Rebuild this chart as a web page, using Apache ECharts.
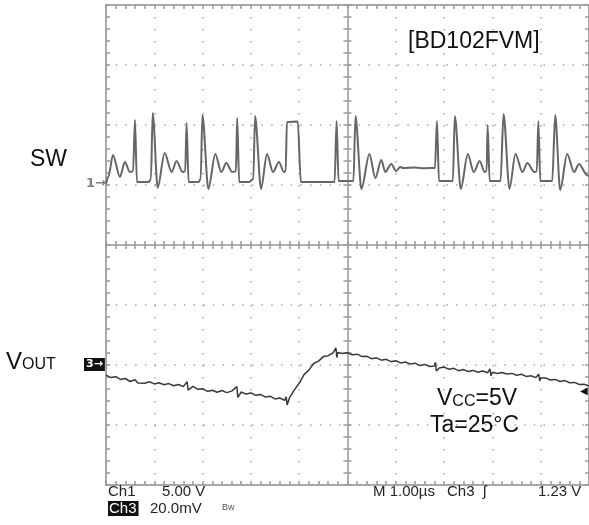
<!DOCTYPE html>
<html><head><meta charset="utf-8">
<script src="https://cdn.jsdelivr.net/npm/echarts@6/dist/echarts.min.js"></script>
<style>html,body{margin:0;padding:0;background:#fff}#c{width:589px;height:525px}</style>
</head><body><div id="c"></div>
<script>
// Oscilloscope settings (10 horizontal x 8 vertical divisions)
const timeRange = [0, 10];        // µs  (M 1.00µs / div)
const swRange = [-25, 15];        // V   (Ch1 5.00 V / div, ground marker "1")
const voutRange = [-40, 120];     // mV  (Ch3 20.0 mV / div, AC, marker "3")
const divXRange = [-5, 5];
const divYRange = [-4, 4];

// SW node waveform, [time µs, volts]
const swTrace = [
  [0.00,0.1],[0.05,0.7],[0.144,2.5],[0.288,0.67],[0.391,1.92],[0.494,1.08],[0.56,1.15],[0.60,5.42],[0.64,0.25],
  [0.885,0.25],[0.93,0.5],[0.967,6.0],[1.07,-0.25],[1.214,2.67],[1.358,1.08],[1.461,2.0],[1.584,1.08],[1.64,1.15],[1.668,5.17],[1.71,0.25],
  [1.914,0.25],[1.96,0.5],[1.996,5.83],[2.119,-0.33],[2.263,2.58],[2.387,1.08],[2.49,1.83],[2.613,1.08],[2.69,1.15],[2.716,5.58],[2.757,0.25],
  [2.963,0.25],[3.05,0.5],[3.086,5.75],[3.21,-0.33],[3.333,2.58],[3.457,1.08],[3.58,1.92],[3.683,1.08],[3.72,1.15],[3.745,5.25],[3.971,5.3],[4.033,0.25],
  [4.733,0.25],[4.774,5.33],[4.815,0.33],
  [5.123,0.33],[5.165,5.75],[5.288,-0.33],[5.453,2.58],[5.576,0.58],[5.70,2.08],[5.782,1.08],[5.905,1.75],[6.008,1.17],[6.091,1.5],[6.152,1.42],[6.40,1.45],[6.60,1.40],[6.811,1.42],[6.852,5.33],[6.894,0.33],
  [7.181,0.33],[7.222,5.75],[7.346,-0.33],[7.49,2.58],[7.613,1.08],[7.737,2.0],[7.84,1.08],[7.88,1.15],[7.901,5.0],[7.943,0.33],
  [8.169,0.33],[8.23,5.92],[8.354,-0.33],[8.477,2.58],[8.621,1.08],[8.724,1.83],[8.868,1.08],[8.92,1.15],[8.951,5.33],[8.992,0.33],
  [9.239,0.33],[9.30,5.83],[9.403,-0.42],[9.547,2.58],[9.691,1.08],[9.794,1.75],[9.959,0.83],[10.0,0.7]
];

// Output ripple waveform, [time µs, millivolts]
const voutTrace = [
  [0.0,-3.4],[0.1,-4.2],[0.2,-3.9],[0.3,-4.8],[0.4,-4.5],[0.5,-5.5],[0.6,-4.9],[0.64,-4.3],[0.66,-6.0],[0.7,-5.5],[0.8,-6.1],[0.9,-5.6],
  [1.0,-6.3],[1.1,-5.9],[1.2,-6.6],[1.3,-6.2],[1.4,-6.9],[1.5,-6.5],[1.6,-7.2],[1.68,-5.6],[1.70,-8.4],[1.8,-7.1],[1.9,-8.1],
  [2.0,-7.9],[2.1,-8.8],[2.2,-8.4],[2.3,-9.1],[2.4,-8.5],[2.5,-9.2],[2.6,-8.7],[2.71,-7.2],[2.73,-10.8],[2.8,-9.0],[2.9,-9.7],
  [3.0,-9.3],[3.1,-10.1],[3.2,-9.8],[3.3,-10.7],[3.4,-10.4],[3.5,-11.3],[3.6,-11.0],[3.7,-11.8],[3.73,-10.6],[3.75,-13.3],[3.8,-10.9],[3.9,-8.3],
  [4.0,-6.1],[4.1,-3.2],[4.2,-1.7],[4.3,0.5],[4.4,1.3],[4.5,2.8],[4.6,3.1],[4.7,4.0],[4.76,5.7],[4.78,2.5],[4.8,4.2],[4.9,3.8],
  [5.0,4.1],[5.1,3.4],[5.2,3.6],[5.3,2.8],[5.4,2.9],[5.5,2.1],[5.6,2.4],[5.7,1.6],[5.8,1.9],[5.9,1.1],
  [6.0,1.4],[6.1,0.7],[6.2,1.0],[6.3,0.3],[6.4,0.6],[6.5,-0.2],[6.6,0.2],[6.7,-0.5],[6.8,-0.3],[6.82,0.9],[6.84,-2.0],[6.9,-1.0],
  [7.0,-0.7],[7.1,-1.4],[7.2,-1.1],[7.3,-1.9],[7.4,-1.5],[7.5,-2.2],[7.6,-1.8],[7.7,-2.4],[7.8,-2.0],[7.9,-2.6],[7.95,-1.3],[7.97,-3.6],
  [8.0,-2.4],[8.1,-2.8],[8.2,-2.5],[8.3,-3.0],[8.4,-2.8],[8.5,-3.4],[8.6,-3.1],[8.7,-3.8],[8.8,-3.6],[8.9,-4.2],[8.96,-3.0],[8.98,-5.3],
  [9.0,-4.3],[9.1,-4.3],[9.2,-5.0],[9.3,-4.8],[9.4,-5.5],[9.5,-5.2],[9.6,-5.9],[9.7,-5.8],[9.8,-6.5],[9.9,-6.4],[10.0,-7.0]
];

const dotGray = '#a4a4a4';
const tickGray = '#999999';
function gratAxis(range, pos, inside, centre, zeroIdx) {
  return {
    type: 'value', min: range[0], max: range[1], interval: 1, position: pos,
    axisLine: centre
      ? {show: true, onZero: true, onZeroAxisIndex: zeroIdx, lineStyle: {color: '#b0b0b0', width: 2}}
      : {show: false, onZero: false},
    axisTick: {show: true, inside: inside, length: 4, lineStyle: {color: tickGray, width: 1.5}},
    minorTick: {show: true, splitNumber: 5, length: 4, lineStyle: {color: tickGray, width: 1.5}},
    axisLabel: {show: false},
    splitLine: {show: false}
  };
}

const xMain = gratAxis(timeRange, 'bottom', true, false);
xMain.splitLine = {show: true, lineStyle: {color: dotGray, width: 1.5, type: [1.5, 10.5]}};
const yDiv = gratAxis(divYRange, 'left', true, false);
yDiv.splitLine = {show: true, lineStyle: {color: dotGray, width: 1.5, type: [1.5, 8.22]}};

const labelFont = "'Liberation Sans', Arial, sans-serif";
const markFont = "'DejaVu Sans', sans-serif";

function label(text, left, top, size, extra) {
  return {
    text: text, left: left, top: top, padding: 0,
    textStyle: Object.assign({fontSize: size, fontFamily: labelFont, fontWeight: 'normal', color: '#111'}, extra || {})
  };
}

const chart = echarts.init(document.getElementById('c'));
chart.setOption({
  animation: false,
  title: [
    label('SW', 30, 148, 23),
    label('{v|V}{s|OUT}', 6, 350, 24, {rich: {
      v: {fontSize: 24, fontFamily: labelFont, color: '#111', verticalAlign: 'bottom'},
      s: {fontSize: 16, fontFamily: labelFont, color: '#111', verticalAlign: 'bottom', padding: [0, 0, 1, 0]}}}),
    label('1→', 86, 177, 13, {fontFamily: markFont, fontWeight: 'bold', color: '#808080'}),
    Object.assign(label('3→', 84, 358, 11, {fontFamily: markFont, fontWeight: 'bold', color: '#fff'}), {backgroundColor: '#111', padding: [1, 2, 1, 2]}),
    label('◀', 580, 386, 10, {fontFamily: markFont}),
    label('[BD102FVM]', 408, 30, 23),
    label('{v|V}{s|CC}{v|=5V}', 437, 387, 23, {rich: {
      v: {fontSize: 23, fontFamily: labelFont, color: '#111', verticalAlign: 'bottom'},
      s: {fontSize: 16, fontFamily: labelFont, color: '#111', verticalAlign: 'bottom'}}}),
    label('Ta=25°C', 430, 414, 23),
    label('Ch1', 108, 484, 15, {color: '#222'}),
    label('5.00 V', 162, 484, 15, {color: '#222'}),
    label('M 1.00µs', 373, 484, 15, {color: '#222'}),
    label('Ch3', 447, 484, 15, {color: '#222'}),
    label('\u0283', 483, 484, 15, {color: '#222'}),
    label('1.23 V', 538, 484, 15, {color: '#222'}),
    Object.assign(label('Ch3', 108, 501, 15, {color: '#fff'}), {backgroundColor: '#111', padding: [0, 2, 0, 1]}),
    label('20.0mV', 150, 501, 15, {color: '#222'}),
    label('Bw', 222, 503, 9, {color: '#555'})
  ],
  grid: {left: 106, top: 5, width: 486, height: 480, show: true, borderColor: '#a8a8a8', borderWidth: 2},
  xAxis: [
    xMain,                                                        // 0: time, bottom border ticks
    {type: 'value', min: divXRange[0], max: divXRange[1], show: false}, // 1: divisions (for centre line)
    gratAxis(timeRange, 'bottom', true, true, 2),                 // 2: centre horizontal line, ticks up
    gratAxis(timeRange, 'bottom', false, true, 2),                // 3: centre horizontal line, ticks down
    gratAxis(timeRange, 'top', true, false)                       // 4: top border ticks
  ],
  yAxis: [
    {type: 'value', min: swRange[0], max: swRange[1], show: false},     // 0: SW volts
    {type: 'value', min: voutRange[0], max: voutRange[1], show: false}, // 1: VOUT mV
    yDiv,                                                         // 2: divisions, left border ticks
    gratAxis(divYRange, 'left', true, true, 1),                   // 3: centre vertical line, ticks right
    gratAxis(divYRange, 'left', false, true, 1),                  // 4: centre vertical line, ticks left
    gratAxis(divYRange, 'right', true, false)                     // 5: right border ticks
  ],
  series: [
    {type: 'line', name: 'SW', xAxisIndex: 0, yAxisIndex: 0, data: swTrace, symbol: 'none',
     smooth: 0.3, smoothMonotone: 'x', lineStyle: {color: '#666', width: 2}, z: 5},
    {type: 'line', name: 'VOUT', xAxisIndex: 0, yAxisIndex: 1, data: voutTrace, symbol: 'none',
     lineStyle: {color: '#3a3a3a', width: 1.5}, z: 5}
  ]
});
</script></body></html>
